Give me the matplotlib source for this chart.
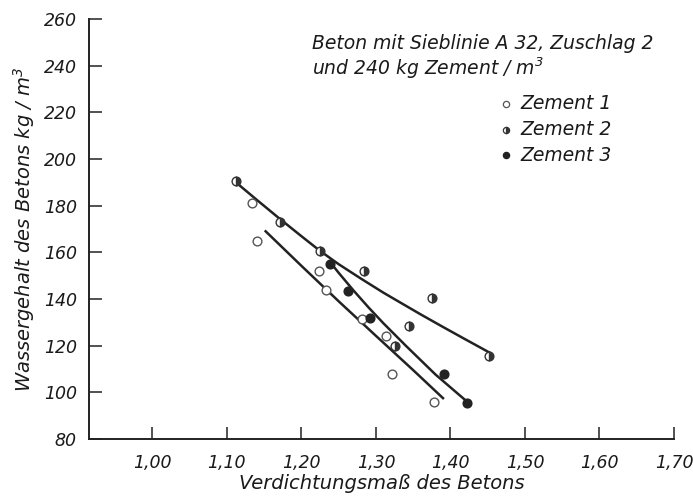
import matplotlib.pyplot as plt
import numpy as np

# Verdichtungsmass / Wassergehalt je Zement
z1_x = [1.134, 1.141, 1.224, 1.233, 1.281, 1.313, 1.321, 1.378]
z1_y = [181, 165, 152, 144, 131.5, 124, 108, 96]
z2_x = [1.112, 1.171, 1.225, 1.284, 1.345, 1.375, 1.326, 1.452]
z2_y = [190.5, 173, 160.5, 152, 128.5, 140.5, 120, 115.5]
z3_x = [1.238, 1.263, 1.292, 1.391, 1.422]
z3_y = [155, 143.5, 132, 108, 95.5]

# Ausgleichskurven
fit1_x = [1.152, 1.20, 1.25, 1.30, 1.35, 1.39]
fit1_y = [169, 154.2, 139, 124.2, 109.5, 97.5]
fit2_x = [1.112, 1.14, 1.17, 1.20, 1.225, 1.25, 1.28, 1.31, 1.332,
          1.36, 1.39, 1.42, 1.452]
fit2_y = [190, 182.5, 174.6, 166.9, 160.6, 154.9, 148.7, 142.7, 138.6,
          133.4, 128.0, 122.7, 117.1]
fit3_x = [1.238, 1.25, 1.27, 1.29, 1.31, 1.34, 1.38, 1.426]
fit3_y = [156, 151.2, 143.6, 136.4, 129.6, 120.0, 107.6, 95]

xticks = [1.00, 1.10, 1.20, 1.30, 1.40, 1.50, 1.60, 1.70]
xticklabels = ['1,00', '1,10', '1,20', '1,30', '1,40', '1,50', '1,60', '1,70']
yticks = [80, 100, 120, 140, 160, 180, 200, 220, 240, 260]


def main():
    plt.rcParams['font.family'] = 'DejaVu Sans'
    plt.rcParams['font.style'] = 'italic'
    plt.rcParams['mathtext.default'] = 'it'

    fig = plt.figure(figsize=(6.93, 4.98), dpi=100)
    ax = fig.add_axes([0.129, 0.1185, 0.8436, 0.8435])

    ink = '#222222'
    for fx, fy in [(fit1_x, fit1_y), (fit2_x, fit2_y), (fit3_x, fit3_y)]:
        ax.plot(fx, fy, color=ink, lw=1.8, zorder=2,
                solid_joinstyle='round')

    ms = 6.3
    ax.plot(z1_x, z1_y, 'o', ms=ms, mfc='white', mec='#555555', mew=1.0,
            zorder=3)
    ax.plot(z2_x, z2_y, 'o', ms=ms, fillstyle='right', mfc='#333333',
            mfcalt='white', mec='#333333', mew=1.0, zorder=3)
    ax.plot(z3_x, z3_y, 'o', ms=ms, mfc='#222222', mec='#222222', mew=1.0,
            zorder=3)

    ax.set_xlim(0.9155, 1.70)
    ax.set_ylim(80, 260)
    ax.set_xticks(xticks)
    ax.set_xticklabels(xticklabels)
    ax.set_yticks(yticks)

    for s in ['top', 'right']:
        ax.spines[s].set_visible(False)
    for s in ['left', 'bottom']:
        ax.spines[s].set_linewidth(1.4)
        ax.spines[s].set_color(ink)
    ax.tick_params(direction='in', length=9, width=1.1, colors=ink,
                   labelsize=12.5, labelcolor='#1a1a1a')
    ax.tick_params(axis='x', pad=11)
    ax.tick_params(axis='y', pad=9)

    ax.set_xlabel('Verdichtungsmaß des Betons', fontsize=14, labelpad=1,
                  color='#1a1a1a')
    ax.set_ylabel('Wassergehalt des Betons kg / m$^3$', fontsize=14,
                  labelpad=5, color='#1a1a1a')

    ax.text(1.214, 249.3, 'Beton mit Sieblinie A 32, Zuschlag 2',
            fontsize=13.5, color='#1a1a1a', va='center')
    ax.text(1.214, 239, 'und 240 kg Zement / m$^3$',
            fontsize=13.5, color='#1a1a1a', va='center')

    # Legende
    lx = 1.4745
    for i, (lab, kw) in enumerate([
            ('Zement 1', dict(mfc='white', mec='#555555')),
            ('Zement 2', dict(fillstyle='right', mfc='#333333',
                              mfcalt='white', mec='#333333')),
            ('Zement 3', dict(mfc='#222222', mec='#222222'))]):
        ly = 223.6 - i * 11
        ax.plot([lx], [ly], 'o', ms=4.5, mew=0.9, clip_on=False, **kw)
        ax.text(lx + 0.019, ly, lab, fontsize=13.5, color='#1a1a1a',
                va='center')

    fig.savefig('out.png', dpi=100)


if __name__ == '__main__':
    main()
